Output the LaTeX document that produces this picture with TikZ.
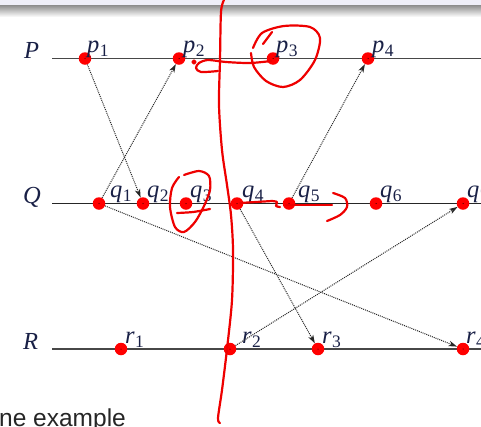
\documentclass[tikz,border=0pt]{standalone}
\usepackage{fontspec}
\setmainfont{Liberation Serif}
\newfontfamily\sansfam{Liberation Sans}
\usetikzlibrary{arrows.meta}
\definecolor{labcol}{RGB}{25,32,70}
\definecolor{lav}{RGB}{238,238,248}
\definecolor{pen}{RGB}{238,0,0}
\newcommand\evl[2]{\textit{#1}\kern0.3pt\raisebox{-4pt}{\fontsize{17.5}{17.5}\selectfont #2}}
\tikzset{
  ev/.style={circle,fill=red,inner sep=0pt,minimum size=12.5pt,
    path picture={\fill[black] (path picture bounding box.center) circle (0.5pt);}},
  lab/.style={anchor=base west,inner sep=0pt,text=labcol,font=\fontsize{24.5}{24.5}\selectfont},
  tl/.style={draw=black!72,line width=1.2pt},
  msg/.style={line width=1pt,dash pattern=on 1pt off 1pt,draw=black!85,
    -{Stealth[length=8.5pt,width=5.5pt,inset=2.5pt]}},
  pen/.style={draw=pen,line width=2.2pt,line cap=round,line join=round}
}
\begin{document}
\begin{tikzpicture}[x=1pt,y=-1pt]
\useasboundingbox (0,0) rectangle (481,426);
% slide header band
\fill[lav] (0,0) rectangle (481,5);
\shade[top color=black!45,bottom color=white] (0,5) rectangle (481,17);
% process lines
\coordinate (Ps) at (52,58.5); \coordinate (Pe) at (481,58.5);
\coordinate (Qs) at (52,203.5); \coordinate (Qe) at (481,203.5);
\coordinate (Rs) at (52,349); \coordinate (Re) at (481,349);
\draw[tl] (Ps) -- (Pe);
\draw[tl,draw=black!85] (Qs) -- (Qe);
\draw[tl] (Rs) -- (Re);
\node[lab] (P) at (24,58.5) {\textit{P}};
\node[lab] (Q) at (23,203.5) {\textit{Q}};
\node[lab] (R) at (23,349) {\textit{R}};
% events
\node[ev] (p1) at (85,58.5) {};
\node[ev] (p2) at (179,58.5) {};
\node[ev] (p3) at (273,58.5) {};
\node[ev] (p4) at (368,58.5) {};
\node[ev] (q1) at (99,203.5) {};
\node[ev] (q2) at (143,203.5) {};
\node[ev] (q3) at (186,203.5) {};
\node[ev] (q4) at (237,203.5) {};
\node[ev] (q5) at (289,203.5) {};
\node[ev] (q6) at (376,203.5) {};
\node[ev] (q7) at (463,203.5) {};
\node[ev] (r1) at (121,349) {};
\node[ev] (r2) at (230,349) {};
\node[ev] (r3) at (318,349) {};
\node[ev] (r4) at (463,349) {};
% event labels
\node[lab] (lp1) at (87,52.5) {\evl{p}{1}};
\node[lab] (lp2) at (183,52.5) {\evl{p}{2}};
\node[lab] (lp3) at (276,52.5) {\evl{p}{3}};
\node[lab] (lp4) at (372,52.5) {\evl{p}{4}};
\node[lab] (lq1) at (110,197.5) {\evl{q}{1}};
\node[lab] (lq2) at (147,197.5) {\evl{q}{2}};
\node[lab] (lq3) at (190,197.5) {\evl{q}{3}};
\node[lab] (lq4) at (242,197.5) {\evl{q}{4}};
\node[lab] (lq5) at (298,197.5) {\evl{q}{5}};
\node[lab] (lq6) at (380,197.5) {\evl{q}{6}};
\node[lab] (lq7) at (467,197.5) {\evl{q}{7}};
\node[lab] (lr1) at (125,343) {\evl{r}{1}};
\node[lab] (lr2) at (242,343) {\evl{r}{2}};
\node[lab] (lr3) at (322,343) {\evl{r}{3}};
\node[lab] (lr4) at (466,343) {\evl{r}{4}};
% messages
\draw[msg] (p1) -- (q2);
\draw[msg] (q1) -- (p2);
\draw[msg] (q1) -- (r4);
\draw[msg] (q5) -- (p4);
\draw[msg] (q4) -- (r3);
\draw[msg] (r2) -- (q7);
% bottom text
\node[anchor=base west,inner sep=0pt,text=black!85,font=\sansfam\fontsize{24.5}{24.5}\selectfont] (txt) at (-1,426) {ne example};
% red annotations
\draw[pen] plot[smooth] coordinates {(224,0) (221,12) (220,60) (219,105) (222,150) (227,185) (231,215) (233,250) (232,300) (227,349) (222,390) (218,418) (220,423)};
\draw[pen] plot[smooth] coordinates {(253,48) (262,33) (284,26) (310,27) (320,38) (315,60) (300,80) (283,87) (266,81) (254,67) (251,53)};
\draw[pen] (263,44) -- (272,32);
\draw[pen] plot[smooth] coordinates {(271,61) (250,63) (226,62) (208,60) (199,63) (196,68) (201,72) (218,71)};
\fill[pen] (194,62) circle (1.6pt);
\draw[pen] plot[smooth] coordinates {(184,175) (199,171) (209,176) (210,190) (204,206) (195,222) (184,232) (175,227) (170,207) (172,188) (179,177)};
\draw[pen] plot[smooth] coordinates {(177,213) (193,212) (210,209)};
\draw[pen] plot[smooth] coordinates {(240,203) (256,202) (272,201)};
\draw[pen] plot[smooth] coordinates {(272,201) (277,202) (276,206) (280,207)};
\draw[pen] (286,205) -- (332,205);
\draw[pen] plot[smooth] coordinates {(333,193) (345,198) (347,207) (340,215) (327,221)};
\end{tikzpicture}
\end{document}
